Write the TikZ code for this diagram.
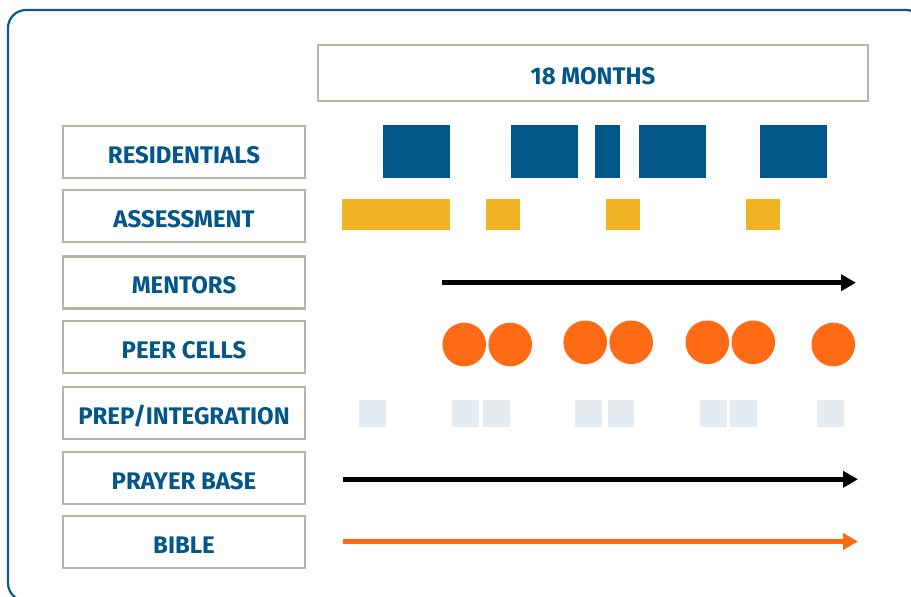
\documentclass[tikz,border=0pt]{standalone}
\usepackage{fontspec}
\setmainfont{Fira Sans}
\usetikzlibrary{arrows.meta}
\definecolor{navy}{HTML}{02568A}
\definecolor{frameblue}{HTML}{0B5A8A}
\definecolor{gold}{HTML}{F0B323}
\definecolor{orng}{HTML}{FF6B14}
\definecolor{boxgray}{HTML}{B5B5AB}
\definecolor{paleblue}{HTML}{E4ECF2}
\tikzset{
  labelbox/.style={draw=boxgray, line width=2.6pt, fill=white, minimum width=242pt, minimum height=52pt, inner sep=0pt, text=navy, text height=22pt, text depth=0pt, font=\fontsize{24}{28}\selectfont\bfseries},
  resblock/.style={fill=navy},
  assblock/.style={fill=gold},
  prepblock/.style={fill=paleblue},
  cell/.style={circle, fill=orng, minimum size=43.6pt, inner sep=0pt},
  timeline/.style={line width=4.5pt, -{Triangle[length=15pt,width=16pt]}}
}
\begin{document}
\begin{tikzpicture}[x=1pt,y=-1pt]
\useasboundingbox (0,0) rectangle (911,597);
% outer frame
\draw[frameblue, line width=2.2pt, rounded corners=18pt] (8,10) rectangle (924,601);
% header
\node[labelbox, minimum width=550pt, minimum height=56pt, text height=22pt] (months) at (593,73) {18 MONTHS};
% row labels
\node[labelbox] (res) at (184,152) {RESIDENTIALS};
\node[labelbox] (ass) at (184,216) {ASSESSMENT};
\node[labelbox] (men) at (184,282.5) {MENTORS};
\node[labelbox] (peer) at (184,347) {PEER CELLS};
\node[labelbox] (prep) at (184,413) {PREP/INTEGRATION};
\node[labelbox] (pray) at (184,478) {PRAYER BASE};
\node[labelbox] (bib) at (184,542) {BIBLE};
% residentials
\fill[resblock] (383,125) rectangle (450,178);
\fill[resblock] (511,125) rectangle (578,178);
\fill[resblock] (595,125) rectangle (620,178);
\fill[resblock] (639,125) rectangle (706,178);
\fill[resblock] (760,125) rectangle (827,178);
% assessment
\fill[assblock] (342,199) rectangle (450,230);
\fill[assblock] (486,199) rectangle (520,230);
\fill[assblock] (606,199) rectangle (640,230);
\fill[assblock] (746,199) rectangle (780,230);
% mentors
\coordinate (menA) at (442,282.7);
\coordinate (menB) at (856,282.7);
\draw[timeline, black] (menA) -- (menB);
% peer cells
\node[cell] (c1) at (464.2,344.5) {};
\node[cell] (c2) at (510.2,344.5) {};
\node[cell] (c3) at (585.2,342.3) {};
\node[cell] (c4) at (631.2,342.3) {};
\node[cell] (c5) at (707.3,342.3) {};
\node[cell] (c6) at (753.3,342.3) {};
\node[cell] (c7) at (833.3,344.5) {};
% prep/integration
\fill[prepblock] (359.1,400) rectangle (386.1,426.8);
\fill[prepblock] (452.2,400) rectangle (479.2,426.8);
\fill[prepblock] (483.3,400) rectangle (510.3,426.8);
\fill[prepblock] (575.3,400) rectangle (602.3,426.8);
\fill[prepblock] (607.5,400) rectangle (634.3,426.8);
\fill[prepblock] (699.5,400) rectangle (726.5,426.8);
\fill[prepblock] (730.3,400) rectangle (757.3,426.8);
\fill[prepblock] (816.6,400) rectangle (843.6,426.8);
% prayer base
\coordinate (prA) at (343,479.3);
\coordinate (prB) at (858,479.3);
\draw[timeline, black] (prA) -- (prB);
% bible
\coordinate (biA) at (343,541.5);
\coordinate (biB) at (858,541.5);
\draw[timeline, orng] (biA) -- (biB);
\end{tikzpicture}
\end{document}
